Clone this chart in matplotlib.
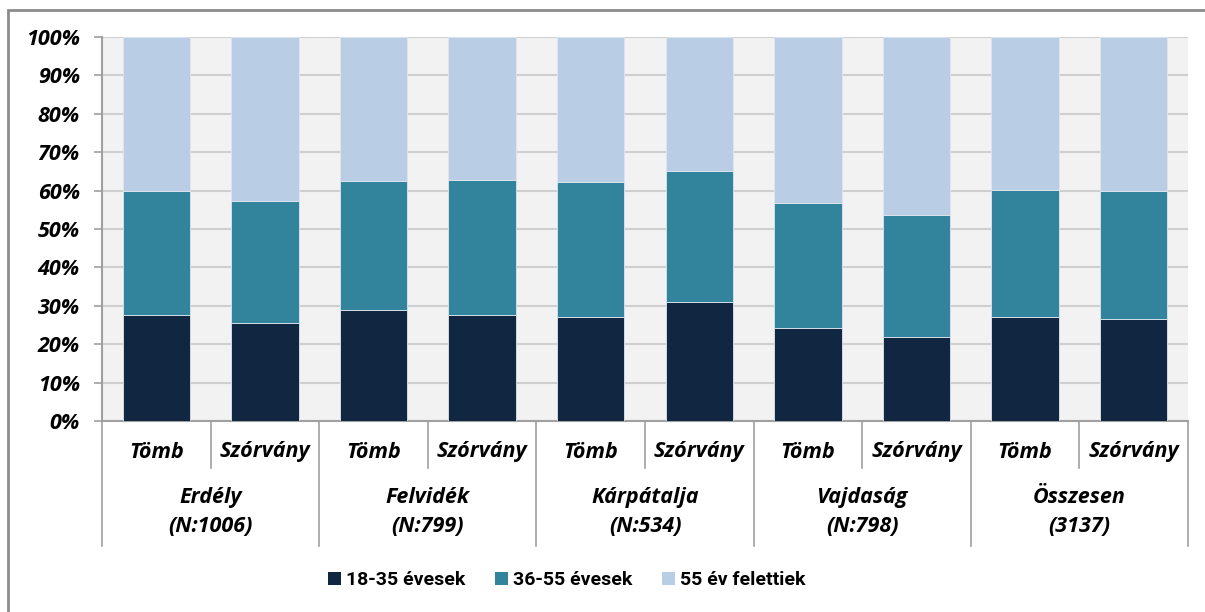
import matplotlib
matplotlib.use("Agg")
import matplotlib.pyplot as plt
from matplotlib.patches import Rectangle, Patch
from matplotlib.transforms import blended_transform_factory

# regions and sub groups
regions = ["Erdély\n(N:1006)", "Felvidék\n(N:799)", "Kárpátalja\n(N:534)",
           "Vajdaság\n(N:798)", "Összesen\n(3137)"]
subgroups = ["Tömb", "Szórvány"]

series_names = ["18-35 évesek", "36-55 évesek", "55 év felettiek"]
# shares in percent, one value per bar (Tömb, Szórvány for each region)
young = [27.6, 25.5, 28.9, 27.6, 27.1, 31.0, 24.2, 21.9, 27.1, 26.6]
middle = [32.3, 31.8, 33.6, 35.2, 35.1, 34.1, 32.6, 31.7, 33.1, 33.3]
old = [40.1, 42.7, 37.5, 37.2, 37.8, 34.9, 43.2, 46.4, 39.8, 40.1]

colors = ["#112641", "#31849B", "#B9CDE5"]

plt.rcParams['font.family'] = ['Open Sans', 'DejaVu Sans']
lab = dict(fontsize=15.5, fontweight='bold', fontstyle='italic')

fig = plt.figure(figsize=(12.05, 6.12), dpi=100)
ax = fig.add_axes([102/1205, 1 - 421/612, (1188 - 102)/1205, (421 - 37)/612])

# outer chart frame
fig.patches.append(Rectangle((8/1205, -0.1), 1.2, 1 - 10/612 + 0.1,
                             transform=fig.transFigure, fill=False,
                             edgecolor="#8c8c8c", linewidth=2))

ax.set_facecolor("#F2F2F2")
x = list(range(len(young)))
bottom2 = [a + b for a, b in zip(young, middle)]
ax.bar(x, young, width=0.62, color=colors[0], edgecolor="#dfe6ee", linewidth=0.6, zorder=3)
ax.bar(x, middle, width=0.62, bottom=young, color=colors[1], edgecolor="#dfe6ee", linewidth=0.6, zorder=3)
ax.bar(x, old, width=0.62, bottom=bottom2, color=colors[2], edgecolor="#dfe6ee", linewidth=0.6, zorder=3)

ax.set_xlim(-0.5, len(x) - 0.5)
ax.set_ylim(0, 100)
ax.set_yticks(range(0, 101, 10))
ax.set_yticklabels([f"{v}%" for v in range(0, 101, 10)])
ax.yaxis.grid(True, color="#cfcfcf", linewidth=1.5, zorder=0)
ax.set_axisbelow(True)
ax.tick_params(axis='y', length=6, color="#a0a0a0", width=1.2, pad=10)
for lbl in ax.get_yticklabels():
    lbl.set_fontsize(lab['fontsize'])
    lbl.set_fontweight('bold')
    lbl.set_fontstyle('italic')
ax.set_xticks([])
for side in ["top", "right", "left", "bottom"]:
    ax.spines[side].set_color("#a0a0a0")
    ax.spines[side].set_linewidth(1.5)
ax.spines["top"].set_visible(False)
ax.spines["right"].set_visible(False)

# two-level category axis
trans = blended_transform_factory(ax.transData, fig.transFigure)
y0 = 1 - 421/612
y_short = 1 - 468/612
y_long = 1 - 546/612
for i in range(len(x)):
    ax.text(i, 1 - 452/612, subgroups[i % 2], transform=trans, ha='center', va='center', **lab)
for b in range(len(x) + 1):
    pos = b - 0.5
    yend = y_long if b % 2 == 0 else y_short
    ax.plot([pos, pos], [y0, yend], transform=trans, color="#a0a0a0", linewidth=1.2,
            clip_on=False)
for g, name in enumerate(regions):
    ax.text(2 * g + 0.5, 1 - 512/612, name, transform=trans, ha='center', va='center',
            linespacing=1.45, **lab)

handles = [Patch(facecolor=c, edgecolor='none') for c in colors]
fig.legend(handles, series_names, loc='center', ncol=3, frameon=False,
           bbox_to_anchor=(567/1205, 1 - 580/612),
           prop={'family': ['Roboto', 'DejaVu Sans'], 'size': 14, 'weight': 'bold'},
           handlelength=0.65, handleheight=0.65, handletextpad=0.3, columnspacing=1.5)

fig.savefig("out.png", dpi=100)
